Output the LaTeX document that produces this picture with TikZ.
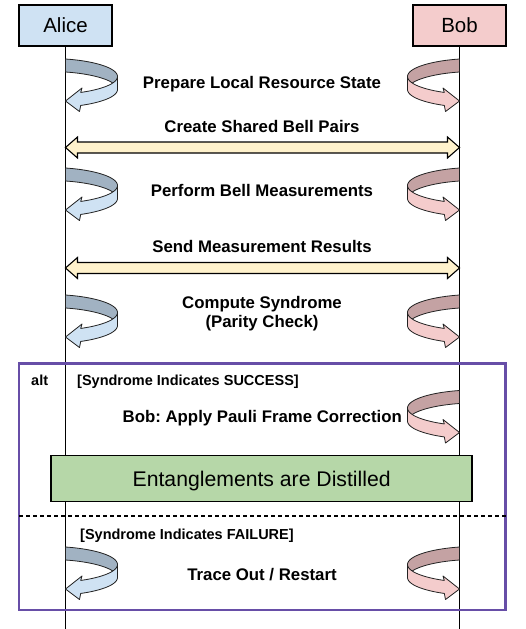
\documentclass[tikz,border=0pt]{standalone}
\usepackage{fontspec}
\setmainfont{Liberation Sans}
\usetikzlibrary{calc}
\definecolor{alicefill}{HTML}{CFE2F3}
\definecolor{bobfill}{HTML}{F4CCCC}
\definecolor{alicedark}{HTML}{A1B2C2}
\definecolor{bobdark}{HTML}{C4A2A3}
\definecolor{msgfill}{HTML}{FFF2CC}
\definecolor{distfill}{HTML}{B6D7A8}
\definecolor{framecol}{HTML}{674EA7}
\definecolor{edgecol}{HTML}{222222}
\frenchspacing
\tikzset{
  actor/.style={draw=black, line width=1.6, minimum width=93, minimum height=41, inner sep=0,
    font=\fontsize{20.5}{24}\selectfont},
  lifeline/.style={line width=1.8, draw=black},
  lbl/.style={font=\fontsize{16.8}{20}\selectfont\bfseries, anchor=base, inner sep=0},
  guard/.style={font=\fontsize{14.5}{17}\selectfont\bfseries, anchor=base west, inner sep=0},
  ribbon/.style={draw=edgecol, line width=0.8, line join=round},
  msg/.style={draw=black, fill=msgfill, line width=1.1, line join=miter},
  distbox/.style={draw=black, fill=distfill, line width=1.6, minimum width=421, minimum height=46,
    inner sep=0, text height=15.2, text depth=0, font=\fontsize{21.2}{25}\selectfont},
  altframe/.style={draw=framecol, line width=2.4, minimum width=486.5, minimum height=246.5, inner sep=0},
  separator/.style={draw=black, line width=1.8, dash pattern=on 4 off 3},
  pics/selfloop/.style 2 args={code={
    \path[ribbon, fill=#1]
      plot[domain=90:0, samples=24] ({52*cos(\x)}, {12-12*sin(\x)+11*(90-\x)/180})
      -- plot[domain=0:90, samples=24] ({52*cos(\x)}, {25-12*sin(\x)+11*(90-\x)/180}) -- cycle;
    \path[ribbon, fill=#2]
      plot[domain=0:-73, samples=24] ({52*cos(\x)}, {12-12*sin(\x)+11*(90-\x)/180})
      -- (16.5,29) -- (0,42) -- (14,52.5)
      -- plot[domain=-73:0, samples=24] ({52*cos(\x)}, {25-12*sin(\x)+11*(90-\x)/180}) -- cycle;
  }},
}
\newcommand\dblarrow[2]{%
  \draw[msg] (#1) -- ($(#1)+(12,-10.5)$) -- ($(#1)+(12,-5.5)$) -- ($(#2)+(-12,-5.5)$)
    -- ($(#2)+(-12,-10.5)$) -- (#2) -- ($(#2)+(-12,10.5)$) -- ($(#2)+(-12,5.5)$)
    -- ($(#1)+(12,5.5)$) -- ($(#1)+(12,10.5)$) -- cycle;}
\begin{document}
\begin{tikzpicture}[x=1pt, y=-1pt]
\useasboundingbox[fill=white] (0,0) rectangle (526,629);
% actors
\node[actor, fill=alicefill] (alice) at (65.5,25.5) {Alice};
\node[actor, fill=bobfill] (bob) at (459.5,25.5) {Bob};
\coordinate (aend) at (65.5,629);
\coordinate (bend) at (459.5,629);
\draw[lifeline] (alice.south) -- (aend);
\draw[lifeline] (bob.south) -- (bend);
% lifeline anchor points
\coordinate (a1) at (65.5,59);   \coordinate (b1) at (459.5,59);
\coordinate (a2) at (65.5,147.5); \coordinate (b2) at (459.5,147.5);
\coordinate (a3) at (65.5,168);  \coordinate (b3) at (459.5,168);
\coordinate (a4) at (65.5,268);  \coordinate (b4) at (459.5,268);
\coordinate (a5) at (65.5,295);  \coordinate (b5) at (459.5,295);
\coordinate (b6) at (459.5,390.5);
\coordinate (a7) at (65.5,547);  \coordinate (b7) at (459.5,547);
% alt frame
\node[altframe] (alt) at (262.25,486.75) {};
\draw[separator] (19,515.7) -- (505.5,515.7);
\node[distbox] (dist) at (261.7,478.5) {Entanglements are Distilled};
% messages
\pic at (a1) {selfloop={alicedark}{alicefill}};
\pic[xscale=-1] at (b1) {selfloop={bobdark}{bobfill}};
\dblarrow{a2}{b2}
\pic at (a3) {selfloop={alicedark}{alicefill}};
\pic[xscale=-1] at (b3) {selfloop={bobdark}{bobfill}};
\dblarrow{a4}{b4}
\pic at (a5) {selfloop={alicedark}{alicefill}};
\pic[xscale=-1] at (b5) {selfloop={bobdark}{bobfill}};
\pic[xscale=-1] at (b6) {selfloop={bobdark}{bobfill}};
\pic at (a7) {selfloop={alicedark}{alicefill}};
\pic[xscale=-1] at (b7) {selfloop={bobdark}{bobfill}};
% labels
\node[lbl] (t1) at (262,88.5) {Prepare Local Resource State};
\node[lbl] (t2) at (262,132) {Create Shared Bell Pairs};
\node[lbl] (t3) at (262,196.5) {Perform Bell Measurements};
\node[lbl] (t4) at (262,252) {Send Measurement Results};
\node[lbl] (t5) at (262,308) {Compute Syndrome};
\node[lbl] (t5b) at (262,327.5) {(Parity Check)};
\node[guard] (altlbl) at (31,385) {alt};
\node[guard] (g1) at (77,385) {[Syndrome Indicates SUCCESS]};
\node[lbl, anchor=base east] (t6) at (402,422.7) {Bob: Apply Pauli Frame Correction};
\node[guard] (g2) at (80,539) {[Syndrome Indicates FAILURE]};
\node[lbl] (t7) at (262,580.5) {Trace Out / Restart};
\end{tikzpicture}
\end{document}
